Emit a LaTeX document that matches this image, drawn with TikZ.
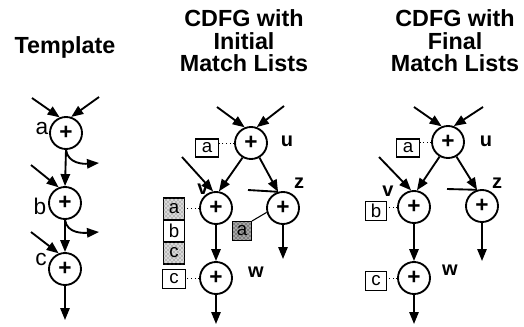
\documentclass[tikz,border=0pt]{standalone}
\usepackage{fontspec}
\setmainfont{Liberation Sans}
\usetikzlibrary{arrows.meta,patterns}
\begin{document}
\begin{tikzpicture}[x=0.75pt,y=-0.75pt,
 op/.style={circle,draw,line width=1.4pt,minimum size=24pt,inner sep=0pt,font=\bfseries\fontsize{17}{17}\selectfont},
 arr/.style={line width=1.4pt,-{Triangle[length=9pt,width=7pt]}},
 ln/.style={line width=1.4pt},
 lbl/.style={font=\bfseries\fontsize{15}{15}\selectfont},
 tlbl/.style={font=\fontsize{17}{17}\selectfont},
 ml/.style={draw,line width=1pt,minimum width=16pt,minimum height=14pt,inner sep=0pt,font=\fontsize{14}{14}\selectfont},
 shaded/.style={fill=black!15,postaction={pattern=crosshatch dots,pattern color=black!70}},
 shadeddark/.style={fill=black!35,postaction={pattern=crosshatch dots,pattern color=black}},
 conn/.style={dotted,line width=0.7pt},
 title/.style={align=center,font=\bfseries\fontsize{17.5}{16.8}\selectfont}]
\useasboundingbox (0,0) rectangle (524,326);
% titles
\node[title,anchor=base] (t1) at (65,53) {Template};
\node[title] (t2) at (244,41) {CDFG with\\Initial\\Match Lists};
\node[title] (t3) at (455,41) {CDFG with\\Final\\Match Lists};
% template
\node[op] (ta) at (66,133) {+};
\node[op] (tb) at (65,203) {+};
\node[op] (tc) at (65,269) {+};
\node[tlbl] (la) at (42,129) {a};
\node[tlbl] (lb) at (40,206) {b};
\node[tlbl] (lc) at (41,260) {c};
\coordinate (ti1) at (32,98);
\coordinate (ti2) at (99,97);
\coordinate (ti3) at (31,165);
\coordinate (ti4) at (31,232);
\coordinate (to1) at (99,163);
\coordinate (to2) at (99,232);
\coordinate (to3) at (65,320);
\draw[arr] (ti1) -- (ta.112);
\draw[arr] (ti2) -- (ta.72);
\draw[arr] (ta.south) -- (tb.north);
\draw[arr] (ta.south) .. controls +(2,14) and +(-15,1) .. (to1);
\draw[arr] (ti3) -- (tb.112);
\draw[arr] (tb.south) -- (tc.north);
\draw[arr] (tb.south) .. controls +(2,14) and +(-15,1) .. (to2);
\draw[arr] (ti4) -- (tc.112);
\draw[arr] (tc.south) -- (to3);
% middle
\node[op] (mu) at (251,143) {+};
\node[op] (mv) at (216,208) {+};
\node[op] (mz) at (283,208) {+};
\node[op] (mw) at (216,278) {+};
\node[lbl] (mlu) at (287,141) {u};
\node[lbl] (mlv) at (203,189) {v};
\node[lbl] (mlz) at (299,183) {z};
\node[lbl] (mlw) at (256,272) {w};
\node[ml,minimum width=17pt,minimum height=13.5pt] (ma) at (207,148) {a};
\node[ml,shaded,minimum width=16pt,minimum height=16.5pt] (mla) at (174,209) {a};
\node[ml,minimum width=16pt,minimum height=16.5pt] (mlb) at (174,231) {b};
\node[ml,shaded,minimum width=16pt,minimum height=16.5pt] (mlc) at (174,253) {c};
\node[ml,minimum width=17pt,minimum height=14pt] (mc) at (174,279) {c};
\node[ml,shadeddark,minimum width=14pt,minimum height=14pt] (mza) at (242,231) {a};
\draw[conn] (mu.west) -- (mu.west -| ma.east);
\draw[conn] (mv.west) -- (mv.west -| mla.east);
\draw[conn] (mw.west) -- (mw.west -| mc.east);
\draw[line width=0.8pt] (mza.north east) -- (mz.195);
\coordinate (mi1) at (217,107);
\coordinate (mi2) at (284,106);
\coordinate (mi3) at (182,157);
\coordinate (mi4) at (248,190);
\coordinate (mo1) at (216,324);
\coordinate (mo2) at (283,259);
\draw[arr] (mi1) -- (mu.112);
\draw[arr] (mi2) -- (mu.70);
\draw[arr] (mu.240) -- (mv.80);
\draw[arr] (mu.300) -- (mz.107);
\draw[arr] (mi3) -- (mv.100);
\draw[ln] (mi4) -- (mz.107);
\draw[arr] (mv.south) -- (mw.north);
\draw[arr] (mw.south) -- (mo1);
\draw[arr] (mz.south) -- (mo2);
% right
\node[op] (fu) at (448,142) {+};
\node[op] (fv) at (414,207) {+};
\node[op] (fz) at (482,206) {+};
\node[op] (fw) at (414,278) {+};
\node[lbl] (flu) at (486,141) {u};
\node[lbl] (flv) at (388,191) {v};
\node[lbl] (flz) at (497,183) {z};
\node[lbl] (flw) at (450,270) {w};
\node[ml,minimum width=17pt,minimum height=13.5pt] (fa) at (408,148) {a};
\node[ml,minimum width=16pt,minimum height=14pt] (fb) at (376,211) {b};
\node[ml,minimum width=16pt,minimum height=14pt] (fc) at (376,281) {c};
\draw[conn] (fu.west) -- (fu.west -| fa.east);
\draw[conn] (fv.west) -- (fv.west -| fb.east);
\draw[conn] (fw.west) -- (fw.west -| fc.east);
\coordinate (fi1) at (414,107);
\coordinate (fi2) at (483,107);
\coordinate (fi3) at (379,157);
\coordinate (fi4) at (447,189);
\coordinate (fo1) at (414,324);
\coordinate (fo2) at (482,261);
\draw[arr] (fi1) -- (fu.112);
\draw[arr] (fi2) -- (fu.70);
\draw[arr] (fu.240) -- (fv.80);
\draw[arr] (fu.300) -- (fz.107);
\draw[arr] (fi3) -- (fv.100);
\draw[ln] (fi4) -- (fz.107);
\draw[arr] (fv.south) -- (fw.north);
\draw[arr] (fw.south) -- (fo1);
\draw[arr] (fz.south) -- (fo2);
\end{tikzpicture}
\end{document}
